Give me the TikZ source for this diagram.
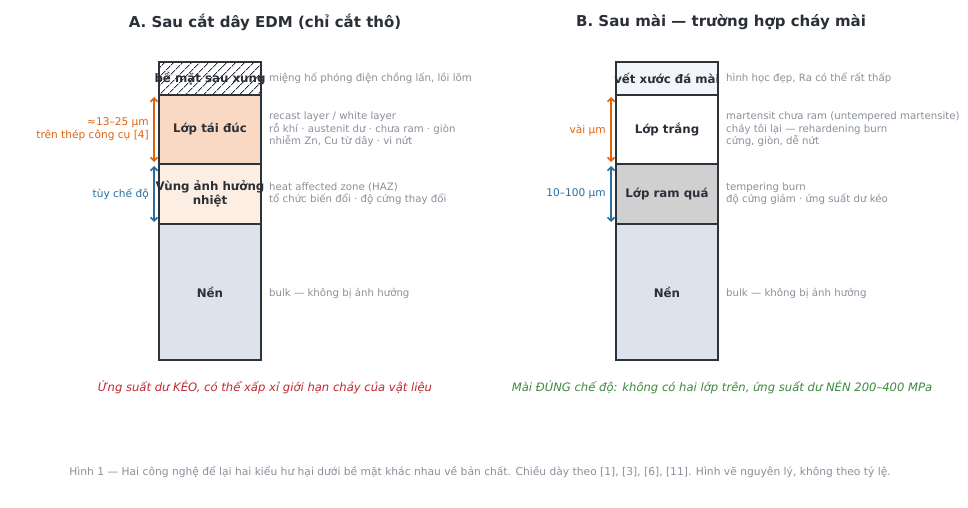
\documentclass[tikz,border=0pt]{standalone}
\usepackage{fontspec}
\setmainfont{DejaVu Sans}
\usetikzlibrary{patterns.meta,arrows.meta}
\definecolor{edgec}{HTML}{2E333B}
\definecolor{recast}{HTML}{FAD9C4}
\definecolor{haz}{HTML}{FDEEE3}
\definecolor{bulk}{HTML}{DCE3EC}
\definecolor{scratch}{HTML}{F3F6F9}
\definecolor{ramq}{HTML}{D0D0D0}
\definecolor{orangec}{HTML}{E0630F}
\definecolor{bluec}{HTML}{2A6E9E}
\definecolor{grayt}{HTML}{8A9099}
\definecolor{titlec}{HTML}{2B3038}
\definecolor{redc}{HTML}{C0282D}
\definecolor{greenc}{HTML}{3C8A3C}
\begin{document}
\begin{tikzpicture}[x=1pt,y=-1pt,
  layer/.style={rectangle, anchor=north west, minimum width=102pt, inner sep=0pt, outer sep=0pt},
  sep/.style={draw=edgec, line width=1.5pt},
  lbl/.style={font=\fontsize{11.8}{14}\selectfont\bfseries, text=titlec, align=center, inner sep=0pt},
  note/.style={font=\fontsize{10.2}{12.6}\selectfont, text=grayt, align=left, anchor=west, inner sep=0pt},
  dimtxt/.style={font=\fontsize{10.6}{13}\selectfont, align=right, anchor=east, inner sep=0pt},
  dimarrow/.style={line width=1.7pt, {Straight Barb[length=3.5pt,width=7pt]}-{Straight Barb[length=3.5pt,width=7pt]}},
  titlef/.style={font=\fontsize{15}{18}\selectfont\bfseries, text=titlec},
  capf/.style={font=\fontsize{11.6}{14}\selectfont\itshape}]
\path[use as bounding box, fill=white] (0,0) rectangle (968,508);

% Titles
\node[titlef] (tA) at (265,22) {A. Sau cắt dây EDM (chỉ cắt thô)};
\node[titlef] (tB) at (721,22) {B. Sau mài — trường hợp cháy mài};

% ---------- Column A ----------
\node[layer, minimum height=33pt, fill=white] (a1) at (159,62) {};
\fill[pattern={Lines[angle=45,distance=6.5pt,line width=0.9pt]}, pattern color=edgec] (a1.north west) rectangle (a1.south east);
\node[layer, minimum height=69pt, fill=recast] (a2) at (159,95) {};
\node[layer, minimum height=60pt, fill=haz] (a3) at (159,164) {};
\node[layer, minimum height=136pt, fill=bulk] (a4) at (159,224) {};
\draw[sep] (a2.north west) -- (a2.north east);
\draw[sep] (a3.north west) -- (a3.north east);
\draw[sep] (a4.north west) -- (a4.north east);
\draw[sep] (a1.north west) -- (a1.north east) -- (a4.south east) -- (a4.south west) -- cycle;

\node[lbl] (la1) at (a1.center) {bề mặt sau xung};
\node[lbl] (la2) at (a2.center) {Lớp tái đúc};
\node[lbl] (la3) at (210,194) {Vùng ảnh hưởng\\nhiệt};
\node[lbl] (la4) at (210,292) {Nền};

\node[note] (na1) at (269,78) {miệng hố phóng điện chồng lấn, lồi lõm};
\node[note] (na2) at (269,129.5) {recast layer / white layer\\rỗ khí · austenit dư · chưa ram · giòn\\nhiễm Zn, Cu từ dây · vi nứt};
\node[note] (na3) at (269,193.5) {heat affected zone (HAZ)\\tổ chức biến đổi · độ cứng thay đổi};
\node[note] (na4) at (269,293) {bulk — không bị ảnh hưởng};

\coordinate (aA1) at (154,97);
\coordinate (aA2) at (154,162);
\coordinate (aB1) at (154,166);
\coordinate (aB2) at (154,222);
\draw[dimarrow, orangec] (aA1) -- (aA2);
\draw[dimarrow, bluec] (aB1) -- (aB2);
\node[dimtxt, text=orangec] (da1) at (149,129.5) {≈13–25 µm\\trên thép công cụ [4]};
\node[dimtxt, text=bluec] (da2) at (149,194) {tùy chế độ};

\node[capf, text=redc] (capA) at (265,387) {Ứng suất dư KÉO, có thể xấp xỉ giới hạn chảy của vật liệu};

% ---------- Column B ----------
\node[layer, minimum height=33pt, fill=scratch] (b1) at (616,62) {};
\node[layer, minimum height=69pt, fill=white] (b2) at (616,95) {};
\node[layer, minimum height=60pt, fill=ramq] (b3) at (616,164) {};
\node[layer, minimum height=136pt, fill=bulk] (b4) at (616,224) {};
\draw[sep] (b2.north west) -- (b2.north east);
\draw[sep] (b3.north west) -- (b3.north east);
\draw[sep] (b4.north west) -- (b4.north east);
\draw[sep] (b1.north west) -- (b1.north east) -- (b4.south east) -- (b4.south west) -- cycle;

\node[lbl] (lb1) at (b1.center) {vết xước đá mài};
\node[lbl] (lb2) at (b2.center) {Lớp trắng};
\node[lbl] (lb3) at (b3.center) {Lớp ram quá};
\node[lbl] (lb4) at (667,292) {Nền};

\node[note] (nb1) at (726,78) {hình học đẹp, Ra có thể rất thấp};
\node[note] (nb2) at (726,129.5) {martensit chưa ram (untempered martensite)\\cháy tôi lại — rehardening burn\\cứng, giòn, dễ nứt};
\node[note] (nb3) at (726,193.5) {tempering burn\\độ cứng giảm · ứng suất dư kéo};
\node[note] (nb4) at (726,293) {bulk — không bị ảnh hưởng};

\coordinate (bA1) at (611,97);
\coordinate (bA2) at (611,162);
\coordinate (bB1) at (611,166);
\coordinate (bB2) at (611,222);
\draw[dimarrow, orangec] (bA1) -- (bA2);
\draw[dimarrow, bluec] (bB1) -- (bB2);
\node[dimtxt, text=orangec] (db1) at (606,130) {vài µm};
\node[dimtxt, text=bluec] (db2) at (606,194) {10–100 µm};

\node[capf, text=greenc] (capB) at (722,387) {Mài ĐÚNG chế độ: không có hai lớp trên, ứng suất dư NÉN 200–400 MPa};

% Footer
\node[font=\fontsize{10.7}{12}\selectfont, text=grayt] (foot) at (480,472) {Hình 1 — Hai công nghệ để lại hai kiểu hư hại dưới bề mặt khác nhau về bản chất. Chiều dày theo [1], [3], [6], [11]. Hình vẽ nguyên lý, không theo tỷ lệ.};
\end{tikzpicture}
\end{document}
